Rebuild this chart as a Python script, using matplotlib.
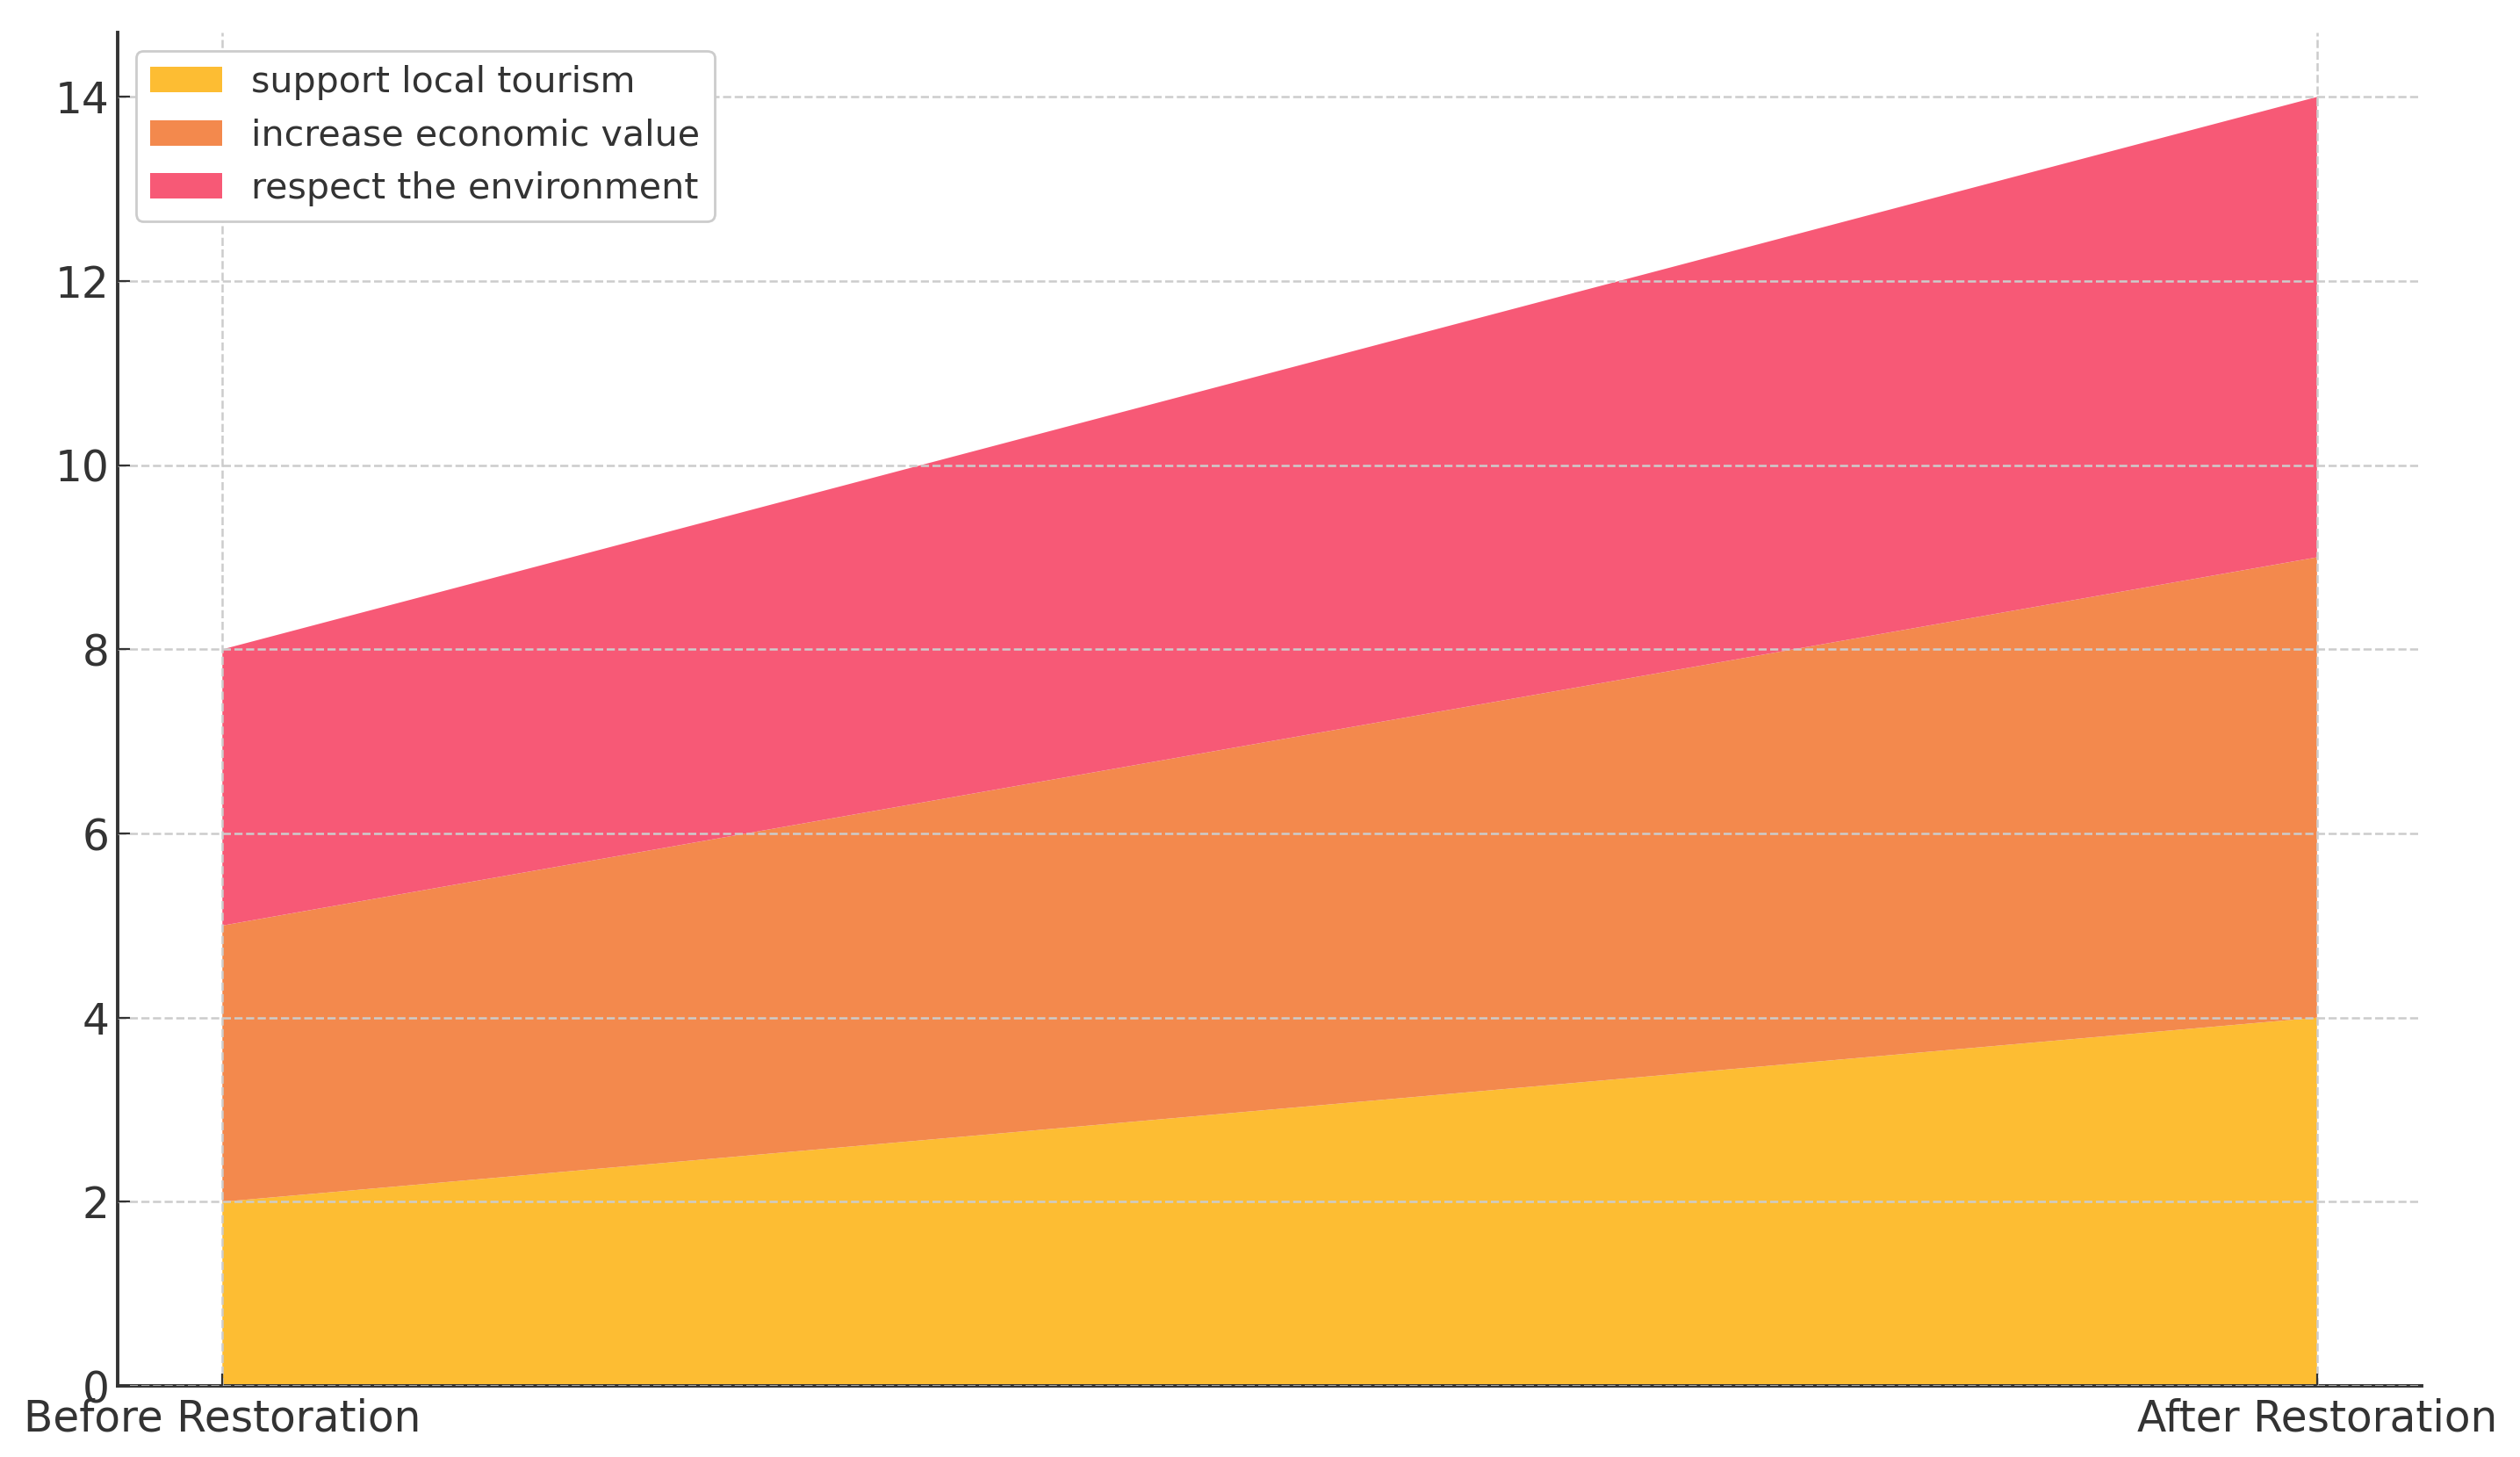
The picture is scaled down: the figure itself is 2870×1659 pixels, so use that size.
import matplotlib
matplotlib.use("Agg")
import matplotlib.pyplot as plt

# data
stages = ["Before Restoration", "After Restoration"]
support_local_tourism = [2, 4]
increase_economic_value = [3, 5]
respect_the_environment = [3, 5]

labels = ["support local tourism", "increase economic value", "respect the environment"]
colors = ["#FDBD33", "#F3894D", "#F75976"]

fig = plt.figure(figsize=(14.35, 8.295), dpi=200)
ax = fig.add_axes([0.0467, 0.0488, 0.9143, 0.9289])

x = range(len(stages))
ax.stackplot(x, support_local_tourism, increase_economic_value, respect_the_environment,
             labels=labels, colors=colors)

ax.set_xticks(list(x))
ax.set_xticklabels(stages)
ax.set_yticks(range(0, 15, 2))
ax.tick_params(axis="both", labelsize=17.5, colors="#333333", direction="in", length=5)
ax.tick_params(axis="x", pad=5)

# only keep left and bottom spines
for side in ["top", "right"]:
    ax.spines[side].set_visible(False)
for side in ["left", "bottom"]:
    ax.spines[side].set_color("#333333")
    ax.spines[side].set_linewidth(1.4)

ax.grid(True, linestyle="--", color="#cccccc", linewidth=0.9)
ax.set_axisbelow(False)

leg = ax.legend(loc="upper left", fontsize=14.8, frameon=True, fancybox=True,
                edgecolor="#cccccc", labelcolor="#333333")
leg.get_frame().set_alpha(1)

plt.savefig("out.png", dpi=200)
